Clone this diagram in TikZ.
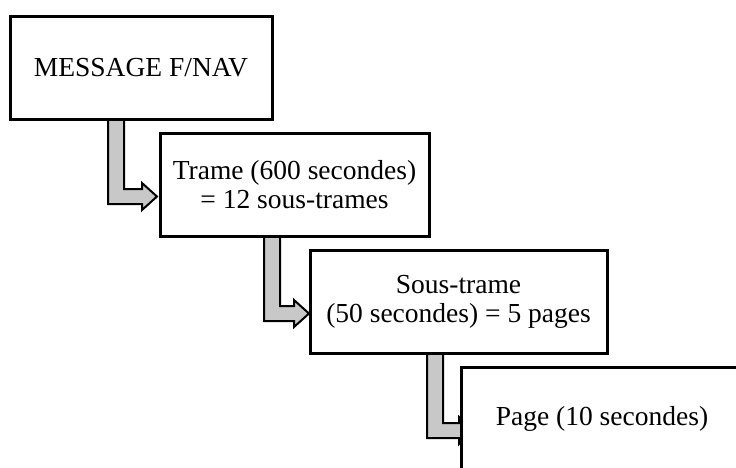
\documentclass[tikz,border=0pt]{standalone}
\usepackage{fontspec}
\setmainfont{Liberation Serif}
\usetikzlibrary{positioning, calc, backgrounds}
\definecolor{grisfleche}{RGB}{200,200,200}
\tikzstyle{bloc}=[draw,line width=3pt,fill=white,rectangle,minimum height=103pt,outer sep=0pt,inner sep=0pt,align=center,font=\fontsize{27.5}{29}\selectfont]
\tikzstyle{fleche}=[draw,line width=2pt,fill=grisfleche,line join=miter]
% fleche coudee : source, cible, decalage du fut, decalage de la tete
\newcommand{\flechecoudee}[4]{%
  \begin{scope}[on background layer]
    \coordinate (w) at (#2.west);
    \filldraw[fleche] ($(#1.south -| w)+(#3,-2)$) -- ($(w)+(#3,19.5)$)
      -- ($(w)+(#4,19.5)$) -- ($(w)+(#4,25.5)$) -- ($(w)+(#4+15,12)$)
      -- ($(w)+(#4,-1.5)$) -- ($(w)+(#4,4.5)$) -- ($(w)+(#3+16,4.5)$)
      -- ($(#1.south -| w)+(#3+16,-2)$) -- cycle;
  \end{scope}}

\begin{document}
\begin{tikzpicture}[x=1pt,y=-1pt]
  \path[use as bounding box,clip] (0,0) rectangle (736,467);
  \node[bloc,minimum width=262pt] (msg) at (141,67.5) {MESSAGE F/NAV};
  \node[bloc,minimum width=269pt,below right=14pt and -112pt of msg] (trame) {Trame (600 secondes)\\= 12 sous-trames};
  \node[bloc,minimum width=297pt,below right=14pt and -119pt of trame] (soustrame) {Sous-trame\\(50 secondes) = 5 pages};
  \node[bloc,minimum width=282pt,below right=14pt and -146pt of soustrame] (page) {Page (10 secondes)};
  \flechecoudee{msg}{trame}{-52}{-18}
  \flechecoudee{trame}{soustrame}{-46}{-16}
  \flechecoudee{soustrame}{page}{-34}{-2}
\end{tikzpicture}
\end{document}
